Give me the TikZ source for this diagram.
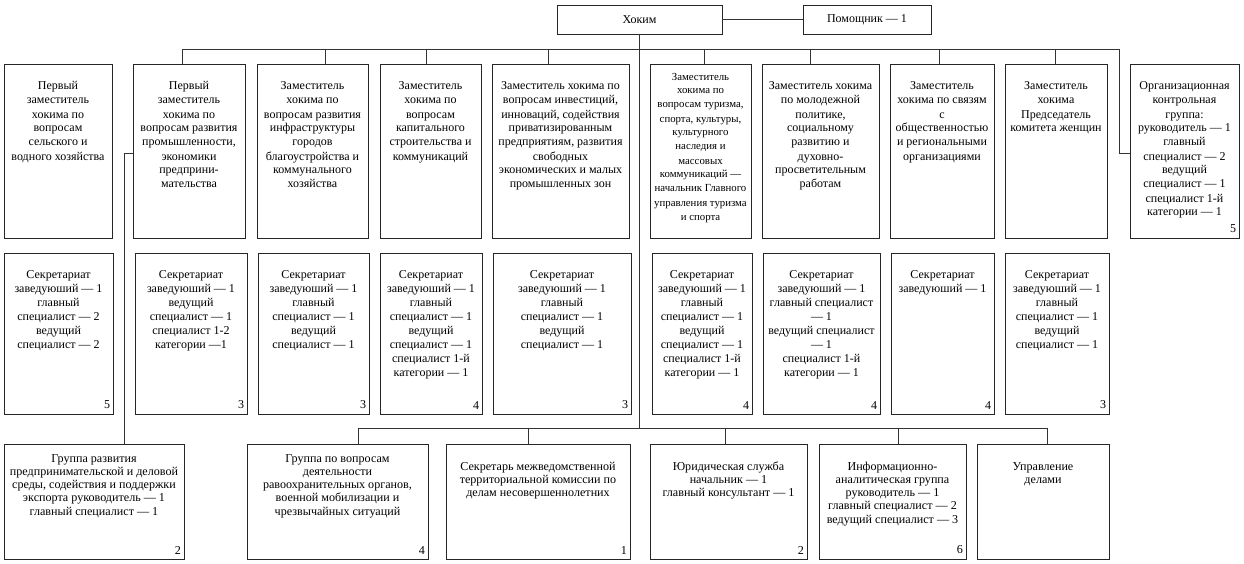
\documentclass[tikz,border=0pt]{standalone}
\usepackage{fontspec}
\setmainfont{Liberation Serif}
\newcommand\fT{\fontsize{12}{14}\selectfont}
\newcommand\fB{\fontsize{12.1}{13.3}\selectfont}
\newcommand\fS{\fontsize{10.8}{14}\selectfont}
\tikzset{
  boxst/.style={draw=black!85, line width=0.8pt, inner xsep=3pt, inner ysep=0pt, outer sep=0pt},
  conn/.style={draw=black!80, line width=0.8pt}
}
% name, x1, y1, x2, y2, first baseline offset, font, text, number
\newcommand\obox[9]{\node[boxst, anchor=north west] (#1) at (#2,#3)
  {\parbox[c][\dimexpr #5pt-#3pt\relax][t]{\dimexpr #4pt-#2pt-6pt\relax}{#7\centering\rule{0pt}{#6pt}#8\par\vfill\raggedleft #9\par\vspace{5pt}}};}
\begin{document}
\begin{tikzpicture}[x=1pt,y=-1pt]
\fill[white] (0,0) rectangle (1244,564);
\useasboundingbox (0,0) rectangle (1244,564);

% top
\node[boxst, minimum width=165, minimum height=29, anchor=north west, font=\fT] (hok) at (557,5) {Хоким};
\node[boxst, minimum width=128, minimum height=29, anchor=north west, font=\fT] (pom) at (803,5) {Помощник — 1};

% row 1
\obox{t1}{4}{64}{112}{238}{26}{\fT}{Первый\\заместитель\\хокима по\\вопросам\\сельского и\\водного хозяйства}{}
\obox{t2}{133}{64}{245}{238}{26}{\fT}{Первый\\заместитель\\хокима по\\вопросам развития\\промышленности,\\экономики\\предприни-\\мательства}{}
\obox{t3}{257}{64}{368}{238}{26}{\fT}{Заместитель\\хокима по\\вопросам развития\\инфраструктуры\\городов\\благоустройства и\\коммунального\\хозяйства}{}
\obox{t4}{380}{64}{481}{238}{26}{\fT}{Заместитель\\хокима по\\вопросам\\капитального\\строительства и\\коммуникаций}{}
\obox{t5}{492}{64}{629}{238}{26}{\fT}{Заместитель хокима по\\вопросам инвестиций,\\инноваций, содействия\\приватизированным\\предприятиям, развития\\свободных\\экономических и малых\\промышленных зон}{}
\obox{t6}{650}{64}{751}{238}{16}{\fS}{Заместитель\\хокима по\\вопросам туризма,\\спорта, культуры,\\культурного\\наследия и\\массовых\\коммуникаций —\\начальник Главного\\управления туризма\\и спорта}{}
\obox{t7}{762}{64}{879}{238}{26}{\fT}{Заместитель хокима\\по молодежной\\политике,\\социальному\\развитию и\\духовно-\\просветительным\\работам}{}
\obox{t8}{890}{64}{994}{238}{26}{\fT}{Заместитель\\хокима по связям\\с\\общественностью\\и региональными\\организациями}{}
\obox{t9}{1005}{64}{1107}{238}{26}{\fT}{Заместитель\\хокима\\Председатель\\комитета женщин}{}
\obox{t10}{1130}{64}{1239}{238}{26}{\fT}{Организационная\\контрольная\\группа:\\руководитель — 1\\главный\\специалист — 2\\ведущий\\специалист — 1\\специалист 1-й\\категории — 1}{5}

% row 2
\obox{m1}{4}{253}{113}{414}{25}{\fT}{Секретариат\\заведуюший — 1\\главный\\специалист — 2\\ведущий\\специалист — 2}{5}
\obox{m2}{135}{253}{247}{414}{25}{\fT}{Секретариат\\заведуюший — 1\\ведущий\\специалист — 1\\специалист 1-2\\категории —1}{3}
\obox{m3}{258}{253}{369}{414}{25}{\fT}{Секретариат\\заведуюший — 1\\главный\\специалист — 1\\ведущий\\специалист — 1}{3}
\obox{m4}{380}{253}{482}{414}{25}{\fT}{Секретариат\\заведуюший — 1\\главный\\специалист — 1\\ведущий\\специалист — 1\\специалист 1-й\\категории — 1}{4}
\obox{m5}{493}{253}{631}{414}{25}{\fT}{Секретариат\\заведуюший — 1\\главный\\специалист — 1\\ведущий\\специалист — 1}{3}
\obox{m6}{652}{253}{752}{414}{25}{\fT}{Секретариат\\заведуюший — 1\\главный\\специалист — 1\\ведущий\\специалист — 1\\специалист 1-й\\категории — 1}{4}
\obox{m7}{763}{253}{880}{414}{25}{\fT}{Секретариат\\заведуюший — 1\\главный специалист\\— 1\\ведущий специалист\\— 1\\специалист 1-й\\категории — 1}{4}
\obox{m8}{891}{253}{994}{414}{25}{\fT}{Секретариат\\заведуюший — 1}{4}
\obox{m9}{1005}{253}{1109}{414}{25}{\fT}{Секретариат\\заведуюший — 1\\главный\\специалист — 1\\ведущий\\специалист — 1}{3}

% row 3
\obox{b1}{4}{444}{184}{559}{18}{\fB}{Группа развития\\предпринимательской и деловой\\среды, содействия и поддержки\\экспорта руководитель — 1\\главный специалист — 1}{2}
\obox{b2}{247}{444}{428}{559}{18}{\fB}{Группа по вопросам\\деятельности\\равоохранительных органов,\\военной мобилизации и\\чрезвычайных ситуаций}{4}
\obox{b3}{446}{444}{630}{559}{26}{\fB}{Секретарь межведомственной\\территориальной комиссии по\\делам несовершеннолетних}{1}
\obox{b4}{650}{444}{807}{559}{26}{\fB}{Юридическая служба\\начальник — 1\\главный консультант — 1}{2}
\obox{b5}{819}{444}{966}{559}{26}{\fB}{Информационно-\\аналитическая группа\\руководитель — 1\\главный специалист — 2\\ведущий специалист — 3}{6}
\obox{b6}{977}{444}{1109}{559}{26}{\fB}{Управление\\делами}{}

% connectors
\draw[conn] (hok.east) -- (pom.west);
\coordinate (bL) at (182,49);
\coordinate (bR) at (1119,49);
\coordinate (o10) at (1130,153);
\draw[conn] (bL |- t2.north) -- (bL) -- (bR) |- (o10);
\coordinate (d3) at (325,49);
\coordinate (d4) at (426,49);
\coordinate (d5) at (548,49);
\coordinate (d6) at (704,49);
\coordinate (d7) at (810,49);
\coordinate (d8) at (939,49);
\coordinate (d9) at (1055,49);
\draw[conn] (d3) -- (d3 |- t3.north);
\draw[conn] (d4) -- (d4 |- t4.north);
\draw[conn] (d5) -- (d5 |- t5.north);
\draw[conn] (d6) -- (d6 |- t6.north);
\draw[conn] (d7) -- (d7 |- t7.north);
\draw[conn] (d8) -- (d8 |- t8.north);
\draw[conn] (d9) -- (d9 |- t9.north);

\coordinate (lk) at (124,153);
\draw[conn] (t2.west |- lk) -- (lk) -- (lk |- b1.north);

\coordinate (bbL) at (358,428);
\coordinate (bbR) at (1047,428);
\draw[conn] (hok.south) -- (hok.south |- bbL);
\draw[conn] (bbL |- b2.north) -- (bbL) -- (bbR) -- (bbR |- b6.north);
\coordinate (e3) at (528,428);
\coordinate (e4) at (725,428);
\coordinate (e5) at (898,428);
\draw[conn] (e3) -- (e3 |- b3.north);
\draw[conn] (e4) -- (e4 |- b4.north);
\draw[conn] (e5) -- (e5 |- b5.north);
\end{tikzpicture}
\end{document}
